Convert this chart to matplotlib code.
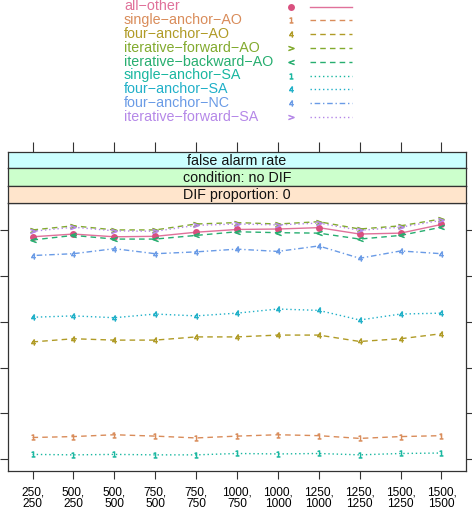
import numpy as np
import matplotlib
matplotlib.use("Agg")
import matplotlib.pyplot as plt

plt.rcParams['font.family'] = ['Liberation Sans', 'DejaVu Sans']

# sample size conditions (reference, focal)
sizes = ["250,\n250", "500,\n250", "500,\n500", "750,\n500", "750,\n750",
         "1000,\n750", "1000,\n1000", "1250,\n1000", "1250,\n1250",
         "1500,\n1250", "1500,\n1500"]

# false alarm rate per method (scaled units, no axis labels in the reference)
all_other = [4.86, 4.92, 4.86, 4.87, 4.96, 5.02, 5.03, 5.06, 4.92, 4.94, 5.13]
single_anchor_ao = [0.47, 0.49, 0.53, 0.50, 0.46, 0.50, 0.53, 0.51, 0.45, 0.49, 0.51]
four_anchor_ao = [2.56, 2.63, 2.60, 2.60, 2.67, 2.67, 2.71, 2.71, 2.57, 2.63, 2.74]
iter_forward_ao = [5.01, 5.10, 5.01, 5.01, 5.14, 5.17, 5.14, 5.19, 5.03, 5.10, 5.25]
iter_backward_ao = [4.79, 4.89, 4.81, 4.81, 4.89, 4.97, 4.95, 4.94, 4.81, 4.89, 5.07]
single_anchor_sa = [0.10, 0.09, 0.10, 0.09, 0.09, 0.12, 0.11, 0.12, 0.09, 0.12, 0.13]
four_anchor_sa = [3.10, 3.13, 3.09, 3.17, 3.13, 3.19, 3.28, 3.25, 3.04, 3.17, 3.19]
four_anchor_nc = [4.45, 4.49, 4.60, 4.49, 4.53, 4.59, 4.54, 4.66, 4.39, 4.55, 4.49]
iter_forward_sa = [4.98, 5.07, 4.99, 4.98, 5.11, 5.14, 5.12, 5.16, 5.00, 5.07, 5.22]

names = ["all\u2212other", "single\u2212anchor\u2212AO", "four\u2212anchor\u2212AO",
         "iterative\u2212forward\u2212AO", "iterative\u2212backward\u2212AO",
         "single\u2212anchor\u2212SA", "four\u2212anchor\u2212SA", "four\u2212anchor\u2212NC",
         "iterative\u2212forward\u2212SA"]
series = [all_other, single_anchor_ao, four_anchor_ao, iter_forward_ao, iter_backward_ao,
          single_anchor_sa, four_anchor_sa, four_anchor_nc, iter_forward_sa]
colors = ["#E0719A", "#D98C5A", "#B09B26", "#82AA2E", "#27AE70",
          "#19B7A0", "#20B0C8", "#6A9BE6", "#B588E8"]
markers = ["o", "$1$", "$4$", "$>$", "$<$", "$1$", "$4$", "$4$", "$>$"]
styles = ["-", (0, (4, 3)), (0, (4, 3)), (0, (4, 3)), (0, (4, 3)),
          (0, (1, 2)), (0, (1, 2)), (0, (1, 2, 4, 2)), (0, (1, 2))]

W, H = 472, 513
fig = plt.figure(figsize=(W / 100, H / 100), dpi=100)


def box(x0, y0, x1, y1):
    # pixel box (top-left origin) -> figure fraction rect
    return [x0 / W, 1 - y1 / H, (x1 - x0) / W, (y1 - y0) / H]


xs = np.arange(1, len(sizes) + 1)
xlim = (0.4, 11.6)

ax = fig.add_axes(box(8, 202.5, 466, 471))
for vals, c, m, ls in zip(series, colors, markers, styles):
    mc = "#D9507F" if m == "o" else c
    ax.plot(xs, vals, color=c, ls=ls, lw=1.0, marker=m, ms=5 if m == "o" else 4,
            mfc=mc, mec=mc, mew=0.5 if m != "o" else 0)
ax.set_xlim(*xlim)
ax.set_ylim(-0.263, 5.61)
ax.set_yticks(range(6))
ax.set_xticks(xs)
ax.set_xticklabels(sizes, fontsize=8.6, linespacing=1.0)
ax.tick_params(axis="y", which="both", left=True, right=True, labelleft=False,
               direction="out", length=6, width=0.8, color="#333333")
ax.tick_params(axis="x", direction="out", length=6, width=0.8, pad=5, color="#333333")
for s in ax.spines.values():
    s.set_linewidth(0.9)
    s.set_color("#333333")

strips = [("false alarm rate", "#CCFFFF", 152.3, 168.3),
          ("condition: no DIF", "#CCFFCC", 168.3, 185.5),
          ("DIF proportion: 0", "#FFE5CC", 185.5, 202.5)]
for i, (txt, bg, y0, y1) in enumerate(strips):
    sa = fig.add_axes(box(8, y0, 466, y1))
    sa.set_facecolor(bg)
    sa.set_xlim(*xlim)
    sa.set_yticks([])
    if i == 0:
        sa.set_xticks(xs)
        sa.tick_params(axis="x", top=True, bottom=False, labelbottom=False,
                       direction="out", length=7, width=0.8, color="#333333")
    else:
        sa.set_xticks([])
    for s in sa.spines.values():
        s.set_linewidth(0.9)
        s.set_color("#333333")
    sa.text(0.5, 0.45, txt, transform=sa.transAxes, ha="center", va="center",
            fontsize=10.3, color="#111111")

# key on top
lg = fig.add_axes(box(0, 0, W, 140))
lg.set_xlim(0, W)
lg.set_ylim(140, 0)
lg.axis("off")
for i, (nm, c, m, ls) in enumerate(zip(names, colors, markers, styles)):
    y = 6.5 + i * 13.8
    lg.text(124, y, nm, color=c, fontsize=10.3, ha="left", va="center")
    mc = "#D9507F" if m == "o" else c
    lg.plot([291], [y], ls="none", marker=m, ms=5 if m == "o" else 4,
            mfc=mc, mec=mc, mew=0.5 if m != "o" else 0)
    lg.plot([310, 352], [y, y], color=c, ls=ls, lw=1.0)

fig.savefig("out.png", dpi=100)
